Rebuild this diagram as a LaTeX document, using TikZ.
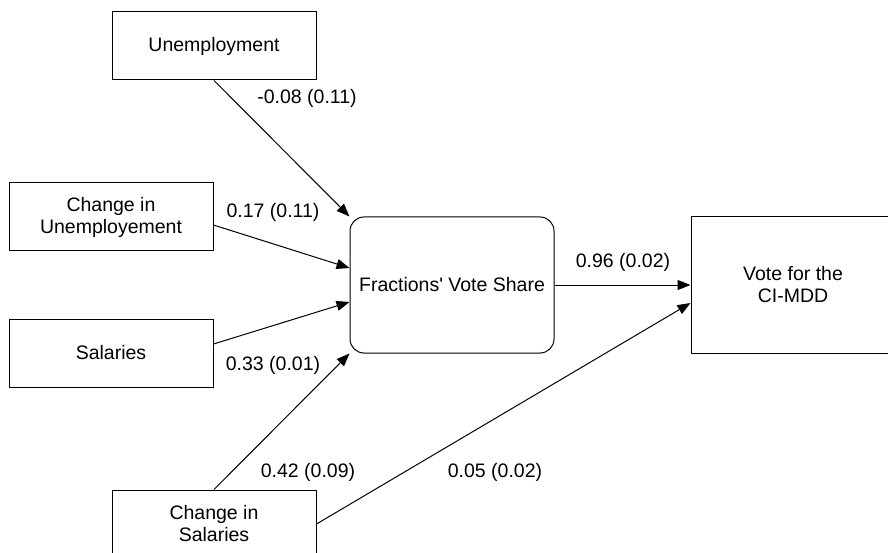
\documentclass[tikz,border=0pt]{standalone}
\usepackage{fontspec}
\setmainfont{Liberation Sans}
\usetikzlibrary{arrows.meta}

\begin{document}
\begin{tikzpicture}[x=1pt,y=-1pt,
  varbox/.style={draw,line width=1pt,minimum width=204pt,minimum height=68pt,align=center,inner sep=0pt,font=\fontsize{19.5}{22}\selectfont},
  coef/.style={font=\fontsize{19.5}{22}\selectfont,inner sep=0pt},
  path/.style={line width=1pt,-{Triangle[length=13pt,width=10pt]}}]
\useasboundingbox (0,0) rectangle (888,553);

\node[varbox] (unemp) at (214,46) {Unemployment};
\node[varbox] (dunemp) at (111,217) {Change in\\Unemployement};
\node[varbox] (sal) at (111,353) {Salaries};
\node[varbox] (dsal) at (214,524) {Change in\\Salaries};
\node[varbox,minimum height=136pt,rounded corners=14pt] (share) at (452,285) {Fractions\textquotesingle{} Vote Share};
\node[varbox,minimum height=136pt] (vote) at (793,285) {Vote for the\\CI-MDD};

\draw[path] (unemp.south) -- (share.north west);
\draw[path] ([yshift=-8]dunemp.east) -- ([yshift=17]share.west);
\draw[path] ([yshift=9]sal.east) -- ([yshift=-17]share.west);
\draw[path] (dsal.north) -- (share.south west);
\draw[path] (dsal.east) -- ([yshift=-18]vote.west);
\draw[path] (share.east) -- (vote.west);

\node[coef] (c1) at (307,98) {-0.08 (0.11)};
\node[coef] (c2) at (273,212) {0.17 (0.11)};
\node[coef] (c3) at (273,365) {0.33 (0.01)};
\node[coef] (c4) at (308,472) {0.42 (0.09)};
\node[coef] (c5) at (495,472) {0.05 (0.02)};
\node[coef] (c6) at (623,262) {0.96 (0.02)};
\end{tikzpicture}
\end{document}
